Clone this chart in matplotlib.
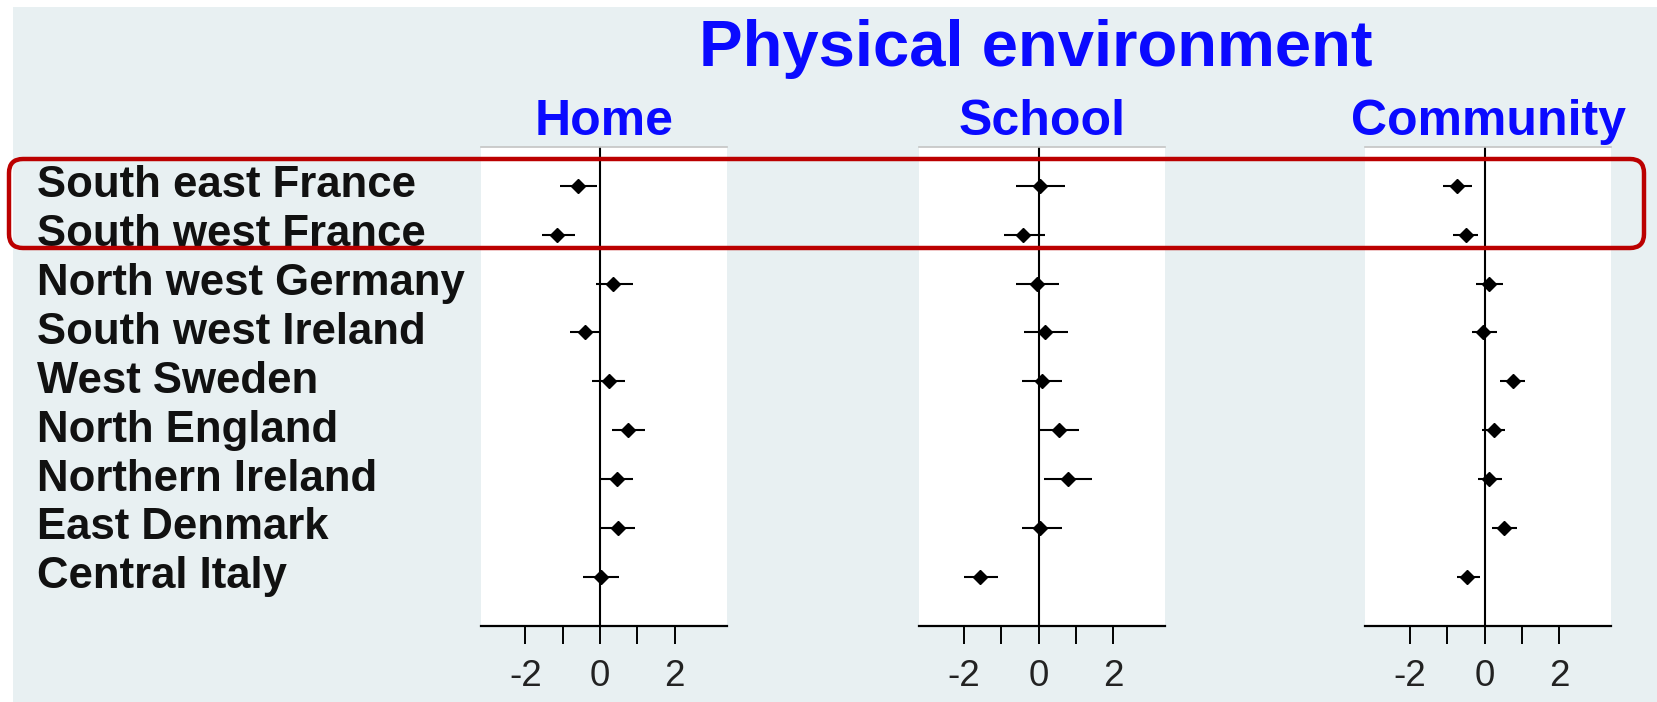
import numpy as np
import matplotlib.pyplot as plt
from matplotlib.patches import Rectangle, FancyBboxPatch

plt.rcParams["font.family"] = ["Liberation Sans", "DejaVu Sans"]

regions = [
    "South east France",
    "South west France",
    "North west Germany",
    "South west Ireland",
    "West Sweden",
    "North England",
    "Northern Ireland",
    "East Denmark",
    "Central Italy",
]

panels = ["Home", "School", "Community"]

# point estimates and interval bounds, one list per setting
home_est = [-0.59, -1.14, 0.36, -0.41, 0.24, 0.75, 0.45, 0.49, 0.02]
home_lo = [-1.08, -1.56, -0.12, -0.81, -0.22, 0.31, 0.00, 0.00, -0.45]
home_hi = [-0.09, -0.67, 0.89, 0.00, 0.66, 1.20, 0.89, 0.93, 0.51]

school_est = [0.05, -0.41, -0.03, 0.18, 0.09, 0.54, 0.79, 0.05, -1.57]
school_lo = [-0.61, -0.92, -0.61, -0.38, -0.45, 0.02, 0.15, -0.45, -1.99]
school_hi = [0.71, 0.18, 0.55, 0.78, 0.62, 1.09, 1.42, 0.62, -1.09]

community_est = [-0.73, -0.51, 0.13, -0.03, 0.75, 0.25, 0.13, 0.51, -0.46]
community_lo = [-1.12, -0.86, -0.22, -0.34, 0.42, -0.06, -0.18, 0.20, -0.75]
community_hi = [-0.34, -0.18, 0.50, 0.34, 1.08, 0.56, 0.46, 0.87, -0.13]

estimates = [home_est, school_est, community_est]
lowers = [home_lo, school_lo, community_lo]
uppers = [home_hi, school_hi, community_hi]

tick_vals = [-2, -1, 0, 1, 2]
tick_text = ["-2", "", "0", "", "2"]

W, H = 1657, 702
fig = plt.figure(figsize=(W / 100, H / 100), dpi=100)
fig.patch.set_facecolor("white")

bg = "#e8f0f2"
fig.patches.append(Rectangle((13 / W, 0), 1 - 13 / W, 1 - 7 / H,
                             transform=fig.transFigure, facecolor=bg,
                             edgecolor="none", zorder=-10))

blue = "#0a0aff"
panel_left = [480.7, 919.3, 1365.3]
panel_w = 246
panel_top, panel_bot = 146.7, 625.7

rows = np.arange(len(regions))
axes = []
for i, name in enumerate(panels):
    ax = fig.add_axes([panel_left[i] / W, 1 - panel_bot / H,
                       panel_w / W, (panel_bot - panel_top) / H])
    ax.set_facecolor("white")
    est = np.array(estimates[i])
    lo = np.array(lowers[i])
    hi = np.array(uppers[i])
    ax.errorbar(est, rows, xerr=[est - lo, hi - est], fmt="D", color="black",
                ms=7, elinewidth=1.5, capsize=0, zorder=3)
    ax.axvline(0, color="black", lw=1.5, zorder=2)
    ax.set_xlim(-3.2, 3.4)
    ax.set_ylim(len(regions) - 1 + 1.0, -0.8)
    ax.set_yticks([])
    ax.set_xticks(tick_vals)
    ax.set_xticklabels(tick_text, fontsize=26.5)
    ax.tick_params(axis="x", direction="out", length=13, width=1.4,
                   pad=11, colors="black", labelcolor="#222222")
    for side in ["left", "right"]:
        ax.spines[side].set_visible(False)
    ax.spines["bottom"].set_linewidth(1.6)
    ax.spines["top"].set_color("#c4c4c4")
    ax.spines["top"].set_linewidth(1.2)
    fig.text((panel_left[i] + panel_w / 2) / W, 1 - 135 / H, name,
             ha="center", va="baseline", fontsize=36, fontweight="bold",
             color=blue)
    axes.append(ax)

# region names sit left of the first panel, aligned with its rows
trans = axes[0].get_yaxis_transform()
for r, label in zip(rows, regions):
    axes[0].text(-(480.7 - 37) / panel_w, r, label, transform=trans,
                 ha="left", va="center", fontsize=31.5, fontweight="bold",
                 color="#111111", clip_on=False)

fig.text(1035.5 / W, 1 - 66 / H, "Physical environment", ha="center",
         va="baseline", fontsize=47, fontweight="bold", color=blue)

# highlight box around the two French regions
box = FancyBboxPatch((9 / 100, (H - 248) / 100), (1644 - 9) / 100,
                     (248 - 159) / 100, boxstyle="round,pad=0,rounding_size=0.14",
                     transform=fig.dpi_scale_trans, facecolor="none",
                     edgecolor="#bb0000", linewidth=3.2, zorder=20)
fig.patches.append(box)

fig.savefig("out.png", dpi=100, facecolor=fig.get_facecolor())
